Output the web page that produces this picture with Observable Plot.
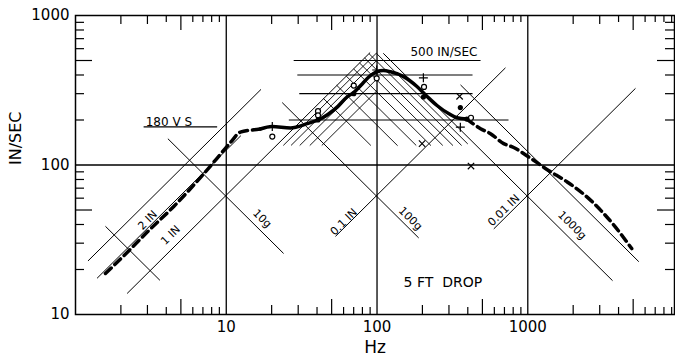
<!DOCTYPE html>
<html><head><meta charset="utf-8">
<script src="https://cdn.jsdelivr.net/npm/d3@7"></script>
<script src="https://cdn.jsdelivr.net/npm/@observablehq/plot@0.6"></script>
<style>
body{margin:0;background:#fff;}
#chart{width:675px;height:361px;overflow:hidden;}
</style></head><body><div id="chart"></div>
<script>
// ---------- data ----------
const G = 386.09;            // in/s^2 per g
const TAU = 2 * Math.PI;

// response curve (Hz, in/sec)
const dashLowF  = [1.58, 2.2, 2.99, 4.5, 7.1, 8.3, 10.7, 12.4, 15.3, 16.8];
const dashLowV  = [18.8, 26, 35.6, 53, 87.5, 105, 142, 166, 172, 174];
const solidF    = [16.8, 20.1, 26.7, 34.4, 41.1, 54.4, 63.2, 70, 80, 90, 100, 110, 123, 150, 184, 215, 250, 300, 339, 394];
const solidV    = [174, 181, 177, 189, 201, 244, 285, 305, 350, 395, 420, 428, 420, 390, 335, 287, 250, 220, 207, 203];
const dashHighF = [394, 486, 566, 692, 806, 991, 1371, 1826, 2616, 3722, 4890];
const dashHighV = [203, 175, 162, 139, 131, 115, 92, 77, 58, 39.6, 27.6];

// test points
const circleF = [20.2, 40.6, 40.6, 70.1, 99.5, 205, 420];
const circleV = [155, 229, 215, 340, 380, 333, 207];
const crossF  = [353, 199, 420];
const crossV  = [288, 139, 98.4];
const plusF   = [20.2, 99.5, 203, 357];
const plusV   = [181, 432, 383, 179];
const filledF = [40.6, 70.1, 203, 357, 394];
const filledV = [200, 300, 285, 242, 203];

// constant displacement lines (inches) and their frequency extent
const dispIn   = [3, 2, 1, 0.1, 0.01];
const dispFrom = [1.21, 1.39, 2.2, 53, 595];
const dispTo   = [17, 12.5, 90, 711, 5180];

// constant acceleration lines (g)
const accG     = [1, 10, 100, 1000, 2000];
const accFrom  = [1.58, 4.1, 23.5, 110, 358];
const accTo    = [3.63, 24, 189, 3650, 5450];

// constant velocity lines (in/sec)
const velV     = [180, 500, 400, 300, 200];
const velFrom  = [2.83, 28, 29.6, 30.5, 26];
const velTo    = [8.7, 486, 430, 430, 745];

// hatched envelope
const hatchG     = [200, 300, 400, 500, 600, 700, 800, 900];
const hatchGFrom = [44, 54, 62.5, 70, 76.6, 82.7, 88.4, 98.8];
const hatchGTo   = [91, 137, 182, 228, 273, 319, 364, 400];
const hatchIn     = [0.5, 0.6, 0.7, 0.8, 0.9];
const hatchInFrom = [43, 35.8, 30.7, 26.9, 23.9];
const hatchInTo   = [100, 100, 100, 100, 99];

// annotations
const noteText = ["2 IN", "1 IN", "10g", "0.1 IN", "100g", "0.01 IN", "1000g"];
const noteKind = ["disp", "disp", "acc", "disp", "acc", "disp", "acc"];
const noteF    = [3.01, 4.27, 17.3, 60.2, 166.7, 693, 1969];
const noteV    = [42.7, 33.9, 43.8, 41.6, 43.8, 49.8, 39.5];

const xMajor = [10, 100, 1000];
const yMajor = [10, 100, 1000];
const minorMult = [2, 3, 4, 5, 6, 7, 8, 9];

// ---------- derived tables ----------
const XMIN = 1, XMAX = 9400, YMIN = 10, YMAX = 1000;
const pxPerDecX = 599 / Math.log10(XMAX / XMIN);
const pxPerDecY = 299 / 2;

const pairs = (F, V) => F.map((f, i) => ({f, v: V[i]}));
const dispSeg = dispIn.map((d, i) => ({x1: dispFrom[i], y1: TAU * dispFrom[i] * d, x2: dispTo[i], y2: TAU * dispTo[i] * d}));
const accSeg = accG.map((a, i) => ({x1: accFrom[i], y1: a * G / (TAU * accFrom[i]), x2: accTo[i], y2: a * G / (TAU * accTo[i])}));
const velSeg = velV.map((v, i) => ({x1: velFrom[i], y1: v, x2: velTo[i], y2: v}));
const hatchSeg = [
  ...hatchG.map((a, i) => ({x1: hatchGFrom[i], y1: a * G / (TAU * hatchGFrom[i]), x2: hatchGTo[i], y2: a * G / (TAU * hatchGTo[i])})),
  ...hatchIn.map((d, i) => ({x1: hatchInFrom[i], y1: TAU * hatchInFrom[i] * d, x2: hatchInTo[i], y2: TAU * hatchInTo[i] * d}))
];
const tickLen = m => m === 5 ? 15 : (m <= 3 ? 9 : 7);
const xTicks = [1, 10, 100, 1000].flatMap(d => minorMult.map(m => ({v: m * d, len: tickLen(m)}))).filter(t => t.v < XMAX);
const yTicks = [10, 100].flatMap(d => minorMult.map(m => ({v: m * d, len: m === 5 ? 17 : 9})));
const notes = noteText.map((t, i) => ({t, kind: noteKind[i], f: noteF[i], v: noteV[i]}));

const font = "DejaVu Sans, Liberation Sans, sans-serif";

const chart = Plot.plot({
  width: 675, height: 361,
  marginLeft: 75, marginRight: 1, marginTop: 15, marginBottom: 47,
  x: {type: "log", domain: [XMIN, XMAX], axis: null},
  y: {type: "log", domain: [YMIN, YMAX], axis: null},
  style: {fontFamily: font, fontSize: "14px", color: "black", background: "white"},
  marks: [
    // grid
    Plot.ruleX(xMajor, {stroke: "black", strokeWidth: 1.3}),
    Plot.ruleY([100], {stroke: "black", strokeWidth: 1.3}),
    // inward ticks
    Plot.ruleX(xTicks, {x: "v", y1: YMIN, y2: d => YMIN * 10 ** (d.len / pxPerDecY), stroke: "black", strokeWidth: 1.2}),
    Plot.ruleX(xTicks, {x: "v", y1: YMAX, y2: d => YMAX / 10 ** (d.len / pxPerDecY), stroke: "black", strokeWidth: 1.2}),
    Plot.ruleY(yTicks, {y: "v", x1: XMIN, x2: d => XMIN * 10 ** (d.len / pxPerDecX), stroke: "black", strokeWidth: 1.2}),
    Plot.ruleY(yTicks, {y: "v", x1: XMAX, x2: d => XMAX / 10 ** (d.len / pxPerDecX), stroke: "black", strokeWidth: 1.2}),
    // tripartite lines
    Plot.link(dispSeg, {x1: "x1", y1: "y1", x2: "x2", y2: "y2", stroke: "black", strokeWidth: 1}),
    Plot.link(accSeg, {x1: "x1", y1: "y1", x2: "x2", y2: "y2", stroke: "black", strokeWidth: 1}),
    Plot.link(velSeg, {x1: "x1", y1: "y1", x2: "x2", y2: "y2", stroke: "black", strokeWidth: 1.1}),
    Plot.link(hatchSeg, {x1: "x1", y1: "y1", x2: "x2", y2: "y2", stroke: "black", strokeWidth: 0.9}),
    // response curve
    Plot.line(pairs(dashLowF, dashLowV), {x: "f", y: "v", stroke: "black", strokeWidth: 3.5, strokeDasharray: "8,5", curve: "monotone-x"}),
    Plot.line(pairs(solidF, solidV), {x: "f", y: "v", stroke: "black", strokeWidth: 3.5, curve: "monotone-x"}),
    Plot.line(pairs(dashHighF, dashHighV), {x: "f", y: "v", stroke: "black", strokeWidth: 3.5, strokeDasharray: "8,5", curve: "monotone-x"}),
    // test points
    Plot.dot(pairs(circleF, circleV), {x: "f", y: "v", r: 2.5, stroke: "black", fill: "white", strokeWidth: 1.2}),
    Plot.dot(pairs(crossF, crossV), {x: "f", y: "v", r: 3, symbol: "times", stroke: "black", strokeWidth: 1.2}),
    Plot.dot(pairs(plusF, plusV), {x: "f", y: "v", r: 3, symbol: "plus", stroke: "black", strokeWidth: 1.2}),
    Plot.dot(pairs(filledF, filledV), {x: "f", y: "v", r: 2.6, fill: "black"}),
    // frame
    Plot.frame({stroke: "black", strokeWidth: 1.5}),
    // axis labels
    Plot.axisX({ticks: xMajor, tickSize: 0, tickPadding: 7, tickFormat: d => String(d), fontSize: 15}),
    Plot.axisY({ticks: yMajor, tickSize: 0, tickPadding: 6, tickFormat: d => String(d), fontSize: 15}),
    Plot.text(["Hz"], {frameAnchor: "bottom", dy: 38, fontSize: 17}),
    Plot.text(["IN/SEC"], {frameAnchor: "left", dx: -60, rotate: -90, fontSize: 16}),
    // annotations
    Plot.text(notes, {x: "f", y: "v", text: "t", rotate: d => d.kind === "disp" ? -45 : 45, fontSize: 11}),
    Plot.text(["180 V S"], {x: () => 2.92, y: () => 193, textAnchor: "start", fontSize: 12, letterSpacing: 1}),
    Plot.text(["500 IN/SEC"], {x: () => 166.7, y: () => 566, textAnchor: "start", fontSize: 12}),
    Plot.text(["5 FT  DROP"], {x: () => 150, y: () => 16.4, textAnchor: "start", fontSize: 14, letterSpacing: 1.5})
  ]
});
document.getElementById("chart").appendChild(chart);
</script></body></html>
